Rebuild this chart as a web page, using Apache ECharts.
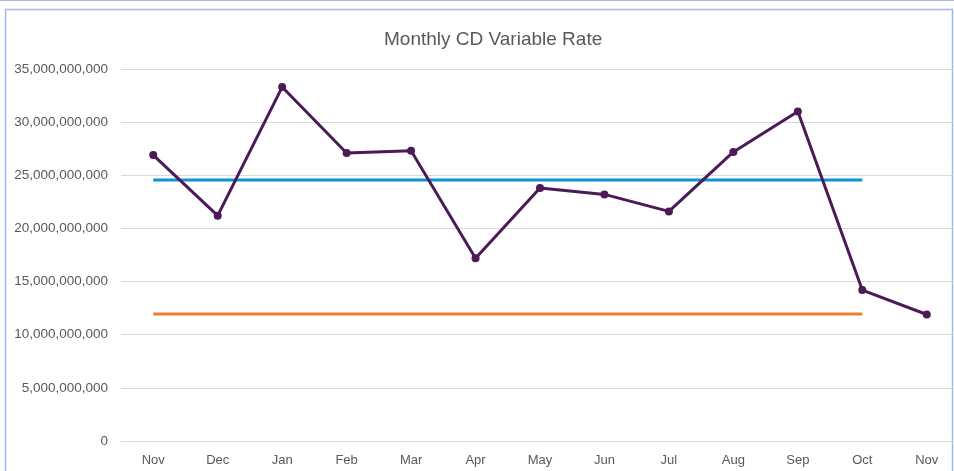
<!DOCTYPE html>
<html>
<head>
<meta charset="utf-8">
<script src="https://cdn.jsdelivr.net/npm/echarts@6/dist/echarts.min.js"></script>
<style>
  html, body { margin: 0; padding: 0; background: #fff; overflow: hidden; }
  /* plot runs a few px past the right edge, like the original */
  #chart { width: 960px; height: 471px; }
</style>
</head>
<body>
<div id="chart"></div>
<script>
// data
const months = ['Nov', 'Dec', 'Jan', 'Feb', 'Mar', 'Apr', 'May', 'Jun', 'Jul', 'Aug', 'Sep', 'Oct', 'Nov']
const rate = [26.9e9, 21.2e9, 33.3e9, 27.1e9, 27.3e9, 17.2e9, 23.8e9, 23.2e9, 21.6e9, 27.2e9, 31.0e9, 14.2e9, 11.9e9]
// horizontal reference lines, Nov..Oct only
const avgLine = [24.55e9, 24.55e9, 24.55e9, 24.55e9, 24.55e9, 24.55e9, 24.55e9, 24.55e9, 24.55e9, 24.55e9, 24.55e9, 24.55e9, null]
const minLine = [11.95e9, 11.95e9, 11.95e9, 11.95e9, 11.95e9, 11.95e9, 11.95e9, 11.95e9, 11.95e9, 11.95e9, 11.95e9, 11.95e9, null]

const labelFont = '"Liberation Sans", sans-serif'

const mychart = echarts.init(document.getElementById('chart'))
mychart.setOption({
  animation: false,
  title: {
    text: 'Monthly CD Variable Rate',
    left: 379,
    top: 25,
    textStyle: { color: '#595959', fontSize: 19, fontWeight: 'normal', fontFamily: labelFont }
  },
  // frame around the chart
  graphic: [
    { type: 'line', shape: { x1: 0, y1: 0.5, x2: 954, y2: 0.5 }, style: { stroke: '#a7c1e0', lineWidth: 1 } },
    { type: 'polyline', shape: { points: [[5.5, 471], [5.5, 9.5], [952.5, 9.5], [952.5, 471]] }, style: { stroke: '#9dbbe0', lineWidth: 1.5, fill: null } }
  ],
  grid: { left: 121, top: 69, width: 838, height: 372 },
  xAxis: {
    type: 'category',
    data: months,
    boundaryGap: true,
    axisLine: { show: true, lineStyle: { color: '#d9d9d9' } },
    axisTick: { show: false },
    axisLabel: { color: '#595959', fontSize: 13, fontFamily: labelFont, margin: 13 }
  },
  yAxis: {
    type: 'value',
    min: 0,
    max: 35e9,
    interval: 5e9,
    axisLine: { show: false },
    axisTick: { show: false },
    splitLine: { lineStyle: { color: '#d9d9d9' } },
    axisLabel: {
      color: '#595959', fontSize: 13.5, fontFamily: labelFont, margin: 13,
      formatter: v => v.toLocaleString('en-US')
    }
  },
  series: [
    {
      type: 'line',
      data: avgLine,
      symbol: 'none',
      lineStyle: { color: '#0f94d2', width: 3 },
      z: 2
    },
    {
      type: 'line',
      data: minLine,
      symbol: 'none',
      lineStyle: { color: '#ed7d31', width: 3 },
      z: 2
    },
    {
      type: 'line',
      data: rate,
      symbol: 'circle',
      symbolSize: 8,
      lineStyle: { color: '#4b1a57', width: 3 },
      itemStyle: { color: '#4b1a57' },
      z: 3
    }
  ]
})
</script>
</body>
</html>
